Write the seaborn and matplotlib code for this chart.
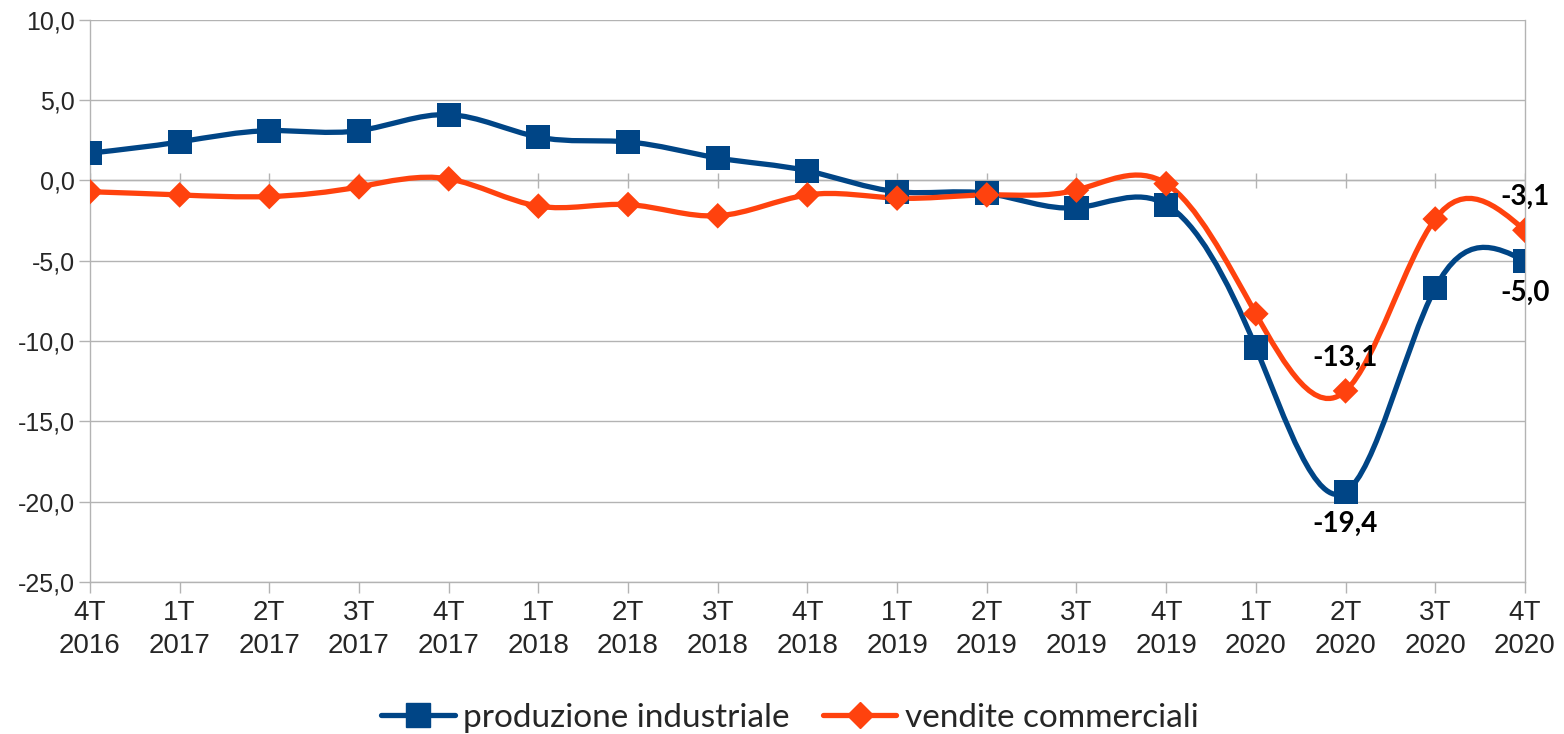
import numpy as np
import pandas as pd
import matplotlib
matplotlib.use("Agg")
import matplotlib.pyplot as plt
import seaborn as sns
from matplotlib.path import Path
from matplotlib.patches import PathPatch
from matplotlib.lines import Line2D

# ================= DATA =================
periodi = ["4T\n2016", "1T\n2017", "2T\n2017", "3T\n2017", "4T\n2017",
           "1T\n2018", "2T\n2018", "3T\n2018", "4T\n2018",
           "1T\n2019", "2T\n2019", "3T\n2019", "4T\n2019",
           "1T\n2020", "2T\n2020", "3T\n2020", "4T\n2020"]
produzione = [1.7, 2.4, 3.1, 3.1, 4.1, 2.7, 2.4, 1.4, 0.6,
              -0.7, -0.8, -1.7, -1.5, -10.4, -19.4, -6.7, -5.0]
vendite = [-0.7, -0.9, -1.0, -0.4, 0.1, -1.6, -1.5, -2.2, -0.9,
           -1.1, -0.9, -0.6, -0.2, -8.3, -13.1, -2.4, -3.1]
etichette = [14, 16]  # punti con etichetta dati

BLU = "#004586"
ARANCIO = "#ff420e"

df = pd.DataFrame({"x": np.arange(len(periodi)),
                   "produzione industriale": produzione,
                   "vendite commerciali": vendite})


def spline_path(x, y):
    # natural cubic spline drawn as bezier segments
    x = np.asarray(x, float)
    y = np.asarray(y, float)
    n = len(y)
    A = np.zeros((n, n))
    b = np.zeros(n)
    A[0, 0], A[0, 1] = 2, 1
    b[0] = 3 * (y[1] - y[0])
    A[-1, -2], A[-1, -1] = 1, 2
    b[-1] = 3 * (y[-1] - y[-2])
    for i in range(1, n - 1):
        A[i, i - 1], A[i, i], A[i, i + 1] = 1, 4, 1
        b[i] = 3 * (y[i + 1] - y[i - 1])
    m = np.linalg.solve(A, b)
    verts = [(x[0], y[0])]
    codes = [Path.MOVETO]
    for i in range(n - 1):
        h = x[i + 1] - x[i]
        verts += [(x[i] + h / 3, y[i] + m[i] / 3),
                  (x[i + 1] - h / 3, y[i + 1] - m[i + 1] / 3),
                  (x[i + 1], y[i + 1])]
        codes += [Path.CURVE4] * 3
    return Path(verts, codes)


# ================= STYLE =================
sns.set_theme(style="white")
plt.rcParams["font.family"] = ["Liberation Sans", "DejaVu Sans"]

fig = plt.figure(figsize=(15.64, 7.34), dpi=100)
ax = fig.add_axes([0.0575, 0.207, 0.9175, 0.766])

for col, colore in [("produzione industriale", BLU), ("vendite commerciali", ARANCIO)]:
    ax.add_patch(PathPatch(spline_path(df["x"], df[col]), fill=False,
                           edgecolor=colore, lw=3.8, zorder=3,
                           capstyle="round", joinstyle="round"))

sns.scatterplot(data=df, x="x", y="produzione industriale", marker="s",
                s=300, color=BLU, edgecolor="none", ax=ax, zorder=4)
sns.scatterplot(data=df, x="x", y="vendite commerciali", marker="D",
                s=170, color=ARANCIO, edgecolor="none", ax=ax, zorder=4)

lab_font = dict(family=["Lato", "DejaVu Sans"], fontsize=20, fontweight="bold",
                ha="center", va="center", color="black", zorder=5)
for i in etichette:
    ax.annotate(f"{produzione[i]:.1f}".replace(".", ","), (i, produzione[i]),
                xytext=(0, -23), textcoords="offset points", **lab_font)
    ax.annotate(f"{vendite[i]:.1f}".replace(".", ","), (i, vendite[i]),
                xytext=(0, 24), textcoords="offset points", **lab_font)

ax.set_xlim(0, len(periodi) - 1)
ax.set_ylim(-25, 10)
ax.set_yticks(np.arange(-25, 10.1, 5))
ax.set_yticklabels([f"{v:.1f}".replace(".", ",") for v in np.arange(-25, 10.1, 5)],
                   fontsize=18)
ax.set_xticks(df["x"])
ax.set_xticklabels(periodi, fontsize=20, linespacing=1.35)
ax.set_xlabel("")
ax.set_ylabel("")
ax.grid(axis="y", color="#b3b3b3", lw=1)
ax.tick_params(axis="y", length=8, color="#b3b3b3", width=1, pad=3, left=True)
ax.tick_params(axis="x", length=8, color="#b3b3b3", width=1, pad=5, bottom=True)
ax.spines["top"].set_visible(False)
for s in ["left", "right", "bottom"]:
    ax.spines[s].set_color("#b3b3b3")
    ax.spines[s].set_linewidth(1)
# tick marks on the zero line
ax.vlines(df["x"], -0.45, 0.45, color="#b3b3b3", lw=1, zorder=1)
ax.axhline(0, color="#b3b3b3", lw=1, zorder=1)

handles = [Line2D([], [], color=BLU, lw=3.8, marker="s", markersize=17),
           Line2D([], [], color=ARANCIO, lw=3.8, marker="D", markersize=13)]
fig.legend(handles, ["produzione industriale", "vendite commerciali"],
           loc="center", bbox_to_anchor=(0.505, 0.022), ncol=2, frameon=False,
           prop={"family": ["Lato", "DejaVu Sans"], "size": 24},
           handlelength=2.2, handletextpad=0.25, columnspacing=1.0)

fig.savefig("out.png", dpi=100)
